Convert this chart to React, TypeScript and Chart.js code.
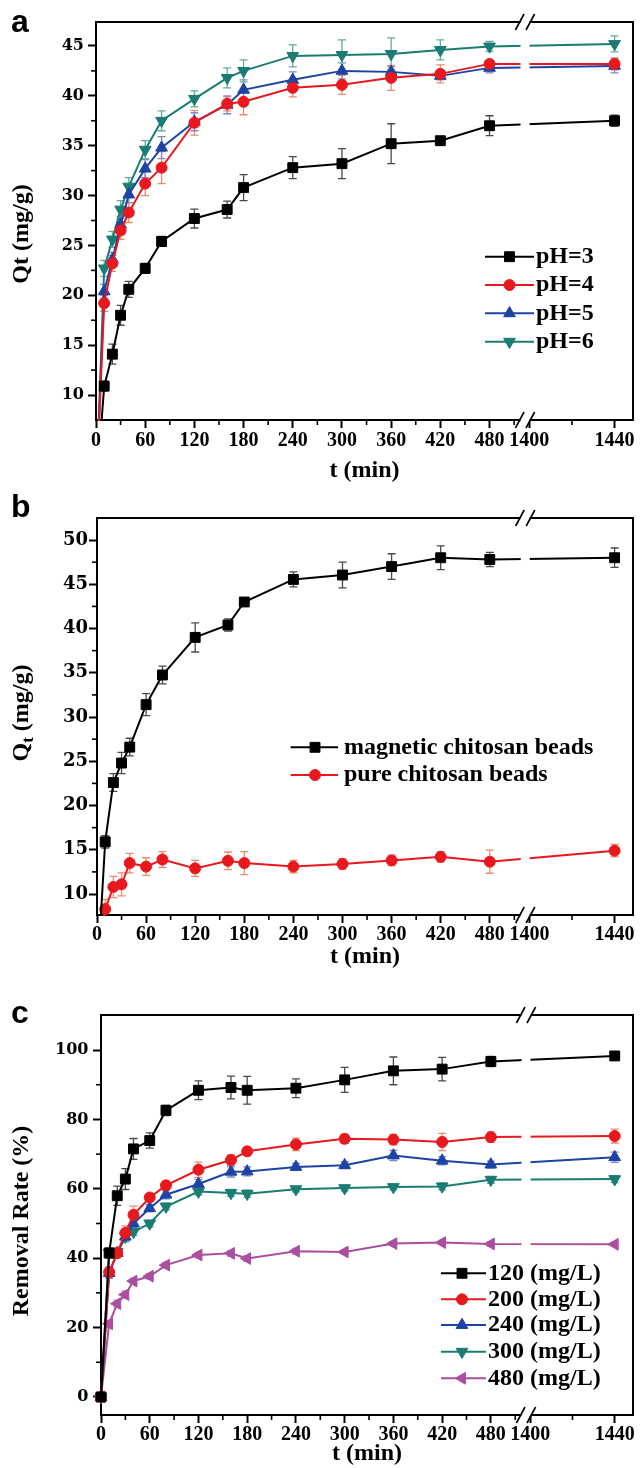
import React, { useEffect, useRef } from 'react';
import { Chart, registerables } from 'chart.js';

Chart.register(...registerables);

const W = 641;
const SERIF = '"Liberation Serif", "Times New Roman", serif';
const DSERIF = '"DejaVu Serif", serif';

// ---- broken x axis: left segment 0..~523 min, right segment 1400..1440 min (stretched) ----
const V1400 = 528.5;
const RIGHT_SCALE = 2.6;
const BREAK_V = 523.3;
const X_MAX_V = 655;
const toAxis = (t: number) => (t <= 600 ? t : V1400 + (t - 1400) * RIGHT_SCALE);

const X_TICKS = [0, 60, 120, 180, 240, 300, 360, 420, 480, 1400, 1440];
const X_MINOR = [30, 90, 150, 210, 270, 330, 390, 450, 510, 1420];

const TIMES = [0, 10, 20, 30, 40, 60, 80, 120, 160, 180, 240, 300, 360, 420, 480, 1440];

// ---- panel a : effect of pH ----
const PH3 = [0, 10.9, 14.1, 18.0, 20.6, 22.7, 25.4, 27.7, 28.6, 30.8, 32.8, 33.2, 35.2, 35.5, 37.0, 37.5];
const PH3_ERR = [0, 0.5, 1.0, 1.0, 0.8, 0.5, 0.5, 0.95, 0.85, 1.3, 1.1, 1.5, 2.0, 0.3, 1.0, 0.55];
const PH4 = [0, 19.2, 23.2, 26.5, 28.3, 31.2, 32.8, 37.3, 39.2, 39.4, 40.8, 41.1, 41.8, 42.2, 43.2, 43.2];
const PH4_ERR = [0, 0.8, 0.8, 0.9, 1.0, 1.2, 1.6, 1.25, 0.7, 1.3, 0.9, 0.95, 1.25, 0.9, 0.4, 0.6];
const PH5 = [0, 20.4, 23.6, 27.1, 30.1, 32.7, 34.8, 37.4, 39.1, 40.6, 41.6, 42.5, 42.4, 42.0, 42.8, 43.0];
const PH5_ERR = [0, 0.7, 0.7, 0.8, 0.8, 0.9, 1.1, 0.9, 0.9, 1.0, 0.8, 0.8, 0.5, 0.4, 0.5, 0.7];
const PH6 = [0, 22.7, 25.6, 28.6, 30.9, 34.6, 37.5, 39.7, 41.8, 42.5, 44.0, 44.1, 44.2, 44.6, 44.95, 45.2];
const PH6_ERR = [0, 0.8, 0.8, 0.9, 0.9, 0.9, 1.0, 0.8, 1.0, 1.1, 1.1, 1.5, 1.6, 1.0, 0.5, 0.8];
const Y_TICKS_A = [10, 15, 20, 25, 30, 35, 40, 45];
const Y_MINOR_A = [12.5, 17.5, 22.5, 27.5, 32.5, 37.5, 42.5];

// ---- panel b : magnetic vs pure beads ----
const MAG = [0, 15.9, 22.6, 24.8, 26.6, 31.4, 34.75, 39.0, 40.4, 43.0, 45.55, 46.05, 47.0, 48.0, 47.8, 48.0];
const MAG_ERR = [0, 0.7, 1.0, 1.2, 1.0, 1.25, 1.0, 1.65, 0.7, 0.3, 0.85, 1.45, 1.45, 1.35, 0.8, 1.1];
const PURE = [0, 8.3, 10.8, 11.1, 13.5, 13.1, 13.9, 12.9, 13.75, 13.5, 13.1, 13.4, 13.8, 14.2, 13.65, 14.9];
const PURE_ERR = [0, 1.1, 1.2, 1.3, 1.1, 1.0, 0.9, 0.9, 1.0, 1.3, 0.7, 0.6, 0.6, 0.6, 1.3, 0.7];
const Y_TICKS_B = [10, 15, 20, 25, 30, 35, 40, 45, 50];
const Y_MINOR_B = [12.5, 17.5, 22.5, 27.5, 32.5, 37.5, 42.5, 47.5];

// ---- panel c : initial concentration ----
const C120 = [0, 41.5, 58.0, 62.8, 71.5, 73.9, 82.6, 88.4, 89.2, 88.4, 89.0, 91.4, 94.0, 94.5, 96.7, 98.3];
const C120_ERR = [0, 1.5, 2.8, 3.0, 3.0, 2.2, 1.5, 2.7, 3.3, 4.0, 2.7, 3.6, 4.0, 3.4, 1.5, 1.0];
const C200 = [0, 36.0, 41.5, 47.3, 52.5, 57.5, 61.0, 65.5, 68.3, 70.8, 72.8, 74.4, 74.2, 73.5, 74.9, 75.2];
const C200_ERR = [0, 1.5, 1.5, 2.0, 2.5, 1.0, 1.2, 2.2, 1.5, 1.2, 1.8, 1.3, 1.5, 2.5, 1.5, 2.0];
const C240 = [0, 35.7, 41.5, 46.2, 50.0, 54.4, 58.3, 61.4, 64.9, 65.0, 66.3, 66.8, 69.6, 68.1, 67.0, 69.1];
const C240_ERR = [0, 1.5, 1.0, 1.5, 1.2, 1.0, 1.2, 1.3, 1.5, 1.3, 1.0, 1.0, 1.5, 1.2, 1.0, 1.5];
const C300 = [0, 41.5, 41.8, 46.2, 47.6, 50.0, 54.9, 59.2, 58.8, 58.6, 59.9, 60.2, 60.5, 60.7, 62.6, 62.8];
const C300_ERR = [0, 1.0, 1.0, 1.2, 1.0, 1.0, 1.0, 1.0, 1.0, 1.0, 0.8, 0.8, 0.8, 1.0, 1.0, 1.0];
const C480 = [0, 21.1, 26.9, 29.5, 33.4, 34.8, 38.0, 40.9, 41.4, 39.9, 42.0, 41.8, 44.2, 44.5, 44.1, 44.0];
const C480_ERR = [0, 1.0, 1.0, 1.0, 0.8, 0.8, 0.8, 0.8, 0.8, 0.8, 0.8, 0.6, 0.6, 0.6, 0.6, 0.6];
const Y_TICKS_C = [0, 20, 40, 60, 80, 100];
const Y_MINOR_C = [10, 30, 50, 70, 90];

// ---- styles ----
const BLACK = { color: '#000000', err: '#4a4a4a' };
const RED = { color: '#e8191e', err: '#f08a6e' };
const BLUE = { color: '#1d43a5', err: '#7d88cc' };
const TEAL = { color: '#1a7c72', err: '#63aaa2' };
const PURPLE = { color: '#aa4f9f', err: '#c887bf' };

const SQUARE = { style: 'rect', rotation: 0, radius: 7 };
const CIRCLE = { style: 'circle', rotation: 0, radius: 5.5 };
const UP = { style: 'triangle', rotation: 0, radius: 6.8 };
const DOWN = { style: 'triangle', rotation: 180, radius: 6.8 };
const LEFT = { style: 'triangle', rotation: 270, radius: 6.8 };

const mk = (label: string, values: number[], errors: number[], col: any, mark: any) => ({
  label, values, errors, color: col.color, errColor: col.err, ...mark,
});

const PANELS = [
  {
    letter: 'a', top: 0, height: 490, letterBase: 31.5,
    area: { left: 96, right: 635, top: 22, bottom: 420 },
    yMin: 7.5, yMax: 47.4, yTicks: Y_TICKS_A, yMinor: Y_MINOR_A, yFont: 16, yPad: 4,
    xPad: 1, xTitlePad: 4.6, clip: 1,
    yTitle: [{ text: 'Qt (mg/g)', size: 24, dy: 0 }], yTitleX: 21, yTitleY: 234,
    legend: { x1: 485, x2: 534, xm: 509.5, textX: 536, rows: [256.7, 285, 313.3, 341.7] },
    series: [
      mk('pH=3', PH3, PH3_ERR, BLACK, SQUARE),
      mk('pH=4', PH4, PH4_ERR, RED, CIRCLE),
      mk('pH=5', PH5, PH5_ERR, BLUE, UP),
      mk('pH=6', PH6, PH6_ERR, TEAL, DOWN),
    ],
  },
  {
    letter: 'b', top: 490, height: 490, letterBase: 26.7,
    area: { left: 97, right: 635, top: 28, bottom: 425 },
    yMin: 7.63, yMax: 52.49, yTicks: Y_TICKS_B, yMinor: Y_MINOR_B, yFont: 18, yPad: 1,
    xPad: 0, xTitlePad: 8.6, clip: 1,
    yTitle: [
      { text: 'Q', size: 24, dy: 0 },
      { text: 't', size: 17, dy: 5 },
      { text: ' (mg/g)', size: 24, dy: 0 },
    ],
    yTitleX: 21, yTitleY: 223,
    legend: { x1: 290.6, x2: 338, xm: 315, textX: 344, rows: [257.3, 285] },
    series: [
      mk('magnetic chitosan beads', MAG, MAG_ERR, BLACK, SQUARE),
      mk('pure chitosan beads', PURE, PURE_ERR, RED, CIRCLE),
    ],
  },
  {
    letter: 'c', top: 980, height: 488, letterBase: 43,
    area: { left: 101, right: 636, top: 35, bottom: 435 },
    yMin: -5.2, yMax: 110.1, yTicks: Y_TICKS_C, yMinor: Y_MINOR_C, yFont: 16, yPad: 4.5,
    xPad: 0, xTitlePad: 0, clip: 8,
    yTitle: [{ text: 'Removal Rate (%)', size: 24, dy: 0 }], yTitleX: 21, yTitleY: 241,
    legend: { x1: 441, x2: 486, xm: 462, textX: 488, rows: [293.3, 319.3, 345, 371.7, 398.3] },
    series: [
      mk('120 (mg/L)', C120, C120_ERR, BLACK, SQUARE),
      mk('200 (mg/L)', C200, C200_ERR, RED, CIRCLE),
      mk('240 (mg/L)', C240, C240_ERR, BLUE, UP),
      mk('300 (mg/L)', C300, C300_ERR, TEAL, DOWN),
      mk('480 (mg/L)', C480, C480_ERR, PURPLE, LEFT),
    ],
  },
];

function drawMarker(ctx: CanvasRenderingContext2D, s: any, x: number, y: number) {
  ctx.save();
  ctx.translate(x, y);
  ctx.rotate((s.rotation * Math.PI) / 180);
  ctx.fillStyle = s.color;
  ctx.strokeStyle = s.color;
  ctx.lineWidth = 1;
  ctx.beginPath();
  const r = s.radius;
  if (s.style === 'rect') {
    const h = Math.SQRT1_2 * r;
    ctx.rect(-h, -h, 2 * h, 2 * h);
  } else if (s.style === 'circle') {
    ctx.arc(0, 0, r, 0, Math.PI * 2);
  } else {
    for (let k = 0; k < 3; k++) {
      const a = (k * 2 * Math.PI) / 3;
      const px = Math.sin(a) * r;
      const py = -Math.cos(a) * r;
      if (k === 0) ctx.moveTo(px, py);
      else ctx.lineTo(px, py);
    }
    ctx.closePath();
  }
  ctx.fill();
  ctx.stroke();
  ctx.restore();
}

function decorPlugin(p: any) {
  return {
    id: 'decor_' + p.letter,
    beforeDatasetsDraw(chart: any) {
      const ctx: CanvasRenderingContext2D = chart.ctx;
      const ys = chart.scales.y;
      const ca = chart.chartArea;
      ctx.save();
      ctx.beginPath();
      ctx.rect(ca.left, ca.top, ca.right - ca.left, ca.bottom - ca.top);
      ctx.clip();
      chart.data.datasets.forEach((ds: any, di: number) => {
        const meta = chart.getDatasetMeta(di);
        ctx.strokeStyle = ds.errColor;
        ctx.lineWidth = 1.3;
        meta.data.forEach((pt: any, i: number) => {
          const e = ds.errors[i];
          if (!e) return;
          const v = ds.data[i].y;
          const y1 = ys.getPixelForValue(v + e);
          const y2 = ys.getPixelForValue(v - e);
          const x = pt.x;
          ctx.beginPath();
          ctx.moveTo(x, y1);
          ctx.lineTo(x, y2);
          ctx.moveTo(x - 4, y1);
          ctx.lineTo(x + 4, y1);
          ctx.moveTo(x - 4, y2);
          ctx.lineTo(x + 4, y2);
          ctx.stroke();
        });
      });
      ctx.restore();
    },
    afterDatasetsDraw(chart: any) {
      const ctx: CanvasRenderingContext2D = chart.ctx;
      const { left, right, top, bottom } = chart.chartArea;
      ctx.save();
      ctx.strokeStyle = '#000';
      ctx.lineWidth = 2;
      ctx.beginPath();
      ctx.moveTo(left - 1, top);
      ctx.lineTo(right, top);
      ctx.lineTo(right, bottom + 1);
      ctx.stroke();
      // axis break
      const bx = chart.scales.x.getPixelForValue(BREAK_V);
      ctx.fillStyle = '#fff';
      ctx.fillRect(bx - 4.5, top - 1.5, 9, bottom - top + 3);
      ctx.lineWidth = 1.6;
      for (const yy of [top, bottom]) {
        for (const dx of [-5.3, 5.3]) {
          ctx.beginPath();
          ctx.moveTo(bx + dx - 4.3, yy + 8);
          ctx.lineTo(bx + dx + 4.3, yy - 8);
          ctx.stroke();
        }
      }
      ctx.restore();
    },
    afterDraw(chart: any) {
      const ctx: CanvasRenderingContext2D = chart.ctx;
      const { left, bottom } = chart.chartArea;
      const xs = chart.scales.x;
      const ys = chart.scales.y;
      ctx.save();
      // minor ticks
      ctx.strokeStyle = '#000';
      ctx.lineWidth = 1.6;
      X_MINOR.forEach((t) => {
        const px = xs.getPixelForValue(toAxis(t));
        ctx.beginPath();
        ctx.moveTo(px, bottom);
        ctx.lineTo(px, bottom + 5);
        ctx.stroke();
      });
      p.yMinor.forEach((v: number) => {
        const py = ys.getPixelForValue(v);
        ctx.beginPath();
        ctx.moveTo(left, py);
        ctx.lineTo(left - 5, py);
        ctx.stroke();
      });
      // legend
      const lg = p.legend;
      p.series.forEach((s: any, i: number) => {
        const y = lg.rows[i];
        ctx.strokeStyle = s.color;
        ctx.lineWidth = 2;
        ctx.beginPath();
        ctx.moveTo(lg.x1, y);
        ctx.lineTo(lg.x2, y);
        ctx.stroke();
        drawMarker(ctx, s, lg.xm, y);
        ctx.fillStyle = '#000';
        ctx.font = `bold 24px ${SERIF}`;
        ctx.textAlign = 'left';
        ctx.textBaseline = 'middle';
        ctx.fillText(s.label, lg.textX, y);
      });
      // y-axis title (rotated, with optional subscript)
      ctx.save();
      ctx.translate(p.yTitleX, p.yTitleY);
      ctx.rotate(-Math.PI / 2);
      ctx.fillStyle = '#000';
      ctx.textAlign = 'left';
      ctx.textBaseline = 'alphabetic';
      const widths = p.yTitle.map((s: any) => {
        ctx.font = `bold ${s.size}px ${SERIF}`;
        return ctx.measureText(s.text).width;
      });
      const total = widths.reduce((a: number, b: number) => a + b, 0);
      let cx = -total / 2;
      p.yTitle.forEach((s: any, i: number) => {
        ctx.font = `bold ${s.size}px ${SERIF}`;
        ctx.fillText(s.text, cx, 7 + s.dy);
        cx += widths[i];
      });
      ctx.restore();
      // panel letter
      ctx.fillStyle = '#000';
      ctx.font = 'bold 32px "Liberation Sans", Arial, sans-serif';
      ctx.textAlign = 'left';
      ctx.textBaseline = 'alphabetic';
      ctx.fillText(p.letter, 11, p.letterBase);
      ctx.restore();
    },
  };
}

function buildChart(canvas: HTMLCanvasElement, p: any) {
  const a = p.area;
  const datasets = p.series.map((s: any) => ({
    label: s.label,
    data: TIMES.map((t, i) => ({ x: toAxis(t), y: s.values[i] })),
    errors: s.errors,
    errColor: s.errColor,
    borderColor: s.color,
    backgroundColor: s.color,
    borderWidth: 2,
    tension: 0,
    pointStyle: s.style,
    pointRotation: s.rotation,
    pointRadius: s.radius,
    pointHoverRadius: s.radius,
    pointBackgroundColor: s.color,
    pointBorderColor: s.color,
    pointBorderWidth: 1,
    clip: p.clip,
  }));
  return new Chart(canvas, {
    type: 'line',
    data: { datasets },
    plugins: [decorPlugin(p)],
    options: {
      animation: false,
      responsive: false,
      devicePixelRatio: 1,
      layout: { padding: { left: 0, top: a.top, right: W - a.right, bottom: 0 } },
      plugins: { legend: { display: false }, tooltip: { enabled: false } },
      scales: {
        x: {
          type: 'linear',
          min: 0,
          max: X_MAX_V,
          afterFit: (s: any) => {
            s.height = p.height - a.bottom;
          },
          afterBuildTicks: (s: any) => {
            s.ticks = X_TICKS.map((t) => ({ value: toAxis(t) }));
          },
          grid: { display: true, drawOnChartArea: false, drawTicks: true, tickLength: 8, tickWidth: 2, tickColor: '#000' },
          border: { display: true, color: '#000', width: 2 },
          ticks: {
            autoSkip: false,
            maxRotation: 0,
            minRotation: 0,
            padding: p.xPad,
            color: '#000',
            font: { family: SERIF, weight: 'bold', size: 20 },
            callback: (_v: any, i: number) => String(X_TICKS[i]),
          },
          title: {
            display: true,
            text: 't (min)',
            color: '#000',
            font: { family: SERIF, weight: 'bold', size: 24 },
            padding: { top: 0, bottom: p.xTitlePad },
          },
        },
        y: {
          type: 'linear',
          min: p.yMin,
          max: p.yMax,
          afterFit: (s: any) => {
            s.width = a.left;
          },
          afterBuildTicks: (s: any) => {
            s.ticks = p.yTicks.map((v: number) => ({ value: v }));
          },
          grid: { display: true, drawOnChartArea: false, drawTicks: true, tickLength: 8, tickWidth: 2, tickColor: '#000' },
          border: { display: true, color: '#000', width: 2 },
          ticks: {
            padding: p.yPad,
            color: '#000',
            font: { family: DSERIF, weight: 'bold', size: p.yFont },
            callback: (v: any) => String(v),
          },
          title: { display: false },
        },
      },
    } as any,
  });
}

function Panel({ p }: { p: any }) {
  const ref = useRef<HTMLCanvasElement>(null);
  useEffect(() => {
    const chart = buildChart(ref.current as HTMLCanvasElement, p);
    return () => chart.destroy();
  }, [p]);
  return (
    <canvas
      ref={ref}
      width={W}
      height={p.height}
      style={{ position: 'absolute', left: 0, top: p.top, width: W, height: p.height, display: 'block' }}
    />
  );
}

export default function App() {
  return (
    <div style={{ position: 'absolute', left: 0, top: 0, width: W, height: 1468, background: '#fff' }}>
      {PANELS.map((p) => (
        <Panel key={p.letter} p={p} />
      ))}
    </div>
  );
}
